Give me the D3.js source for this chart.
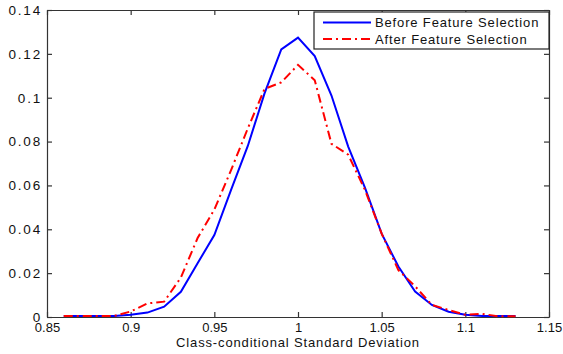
<!DOCTYPE html>
<html>
<head>
<meta charset="utf-8">
<script src="https://cdn.jsdelivr.net/npm/d3@7"></script>
<style>
  body { margin: 0; background: #fff; }
  svg { display: block; font-family: "Liberation Sans", Arial, sans-serif; }
</style>
</head>
<body>
<div id="chart"></div>
<script>
const xValues = [0.86, 0.87, 0.88, 0.89, 0.90, 0.91, 0.92, 0.93, 0.94, 0.95,
  0.96, 0.97, 0.98, 0.99, 1.00, 1.01, 1.02, 1.03, 1.04, 1.05,
  1.06, 1.07, 1.08, 1.09, 1.10, 1.11, 1.12, 1.13];
const beforeValues = [0.0005, 0.0005, 0.0005, 0.0005, 0.001, 0.002, 0.0047, 0.0115, 0.0245, 0.0374,
  0.058, 0.078, 0.102, 0.122, 0.1274, 0.119, 0.101, 0.0777, 0.059, 0.038,
  0.023, 0.0116, 0.0055, 0.0024, 0.001, 0.0005, 0.0004, 0.0004];
const afterValues = [0.0004, 0.0004, 0.0004, 0.0005, 0.0025, 0.0062, 0.007, 0.018, 0.036, 0.049,
  0.067, 0.086, 0.104, 0.107, 0.115, 0.108, 0.079, 0.074, 0.058, 0.038,
  0.0214, 0.0140, 0.0055, 0.0032, 0.001, 0.0014, 0.0003, 0.0003];
const seriesNames = ['Before Feature Selection', 'After Feature Selection'];
const xTicks = [0.85, 0.9, 0.95, 1, 1.05, 1.1, 1.15];
const xTickLabels = ['0.85', '0.9', '0.95', '1', '1.05', '1.1', '1.15'];
const yTicks = [0, 0.02, 0.04, 0.06, 0.08, 0.1, 0.12, 0.14];
const yTickLabels = ['0', '0.02', '0.04', '0.06', '0.08', '0.1', '0.12', '0.14'];
const xLabel = 'Class-conditional Standard Deviation';

const width = 563;
const height = 354;
const margin = { top: 10, right: 14, bottom: 37, left: 47 };
const w = width - margin.left - margin.right;
const h = height - margin.top - margin.bottom;

const svg = d3.select('#chart')
  .append('svg')
  .attr('width', width)
  .attr('height', height);

const g = svg.append('g')
  .attr('transform', `translate(${margin.left},${margin.top})`);

const x = d3.scaleLinear().domain([0.85, 1.15]).range([0, w]);
const y = d3.scaleLinear().domain([0, 0.14]).range([h, 0]);

g.append('rect')
  .attr('width', w)
  .attr('height', h)
  .attr('fill', '#fff');

const fmtX = d => xTickLabels[xTicks.indexOf(d)];
const fmtY = d => yTickLabels[yTicks.indexOf(d)];

// matlab-ish text: normal glyphs, spaced out
function styleAxis(sel, size, spacing) {
  sel.selectAll('path').attr('stroke', '#333').attr('stroke-width', 1.2);
  sel.selectAll('line').attr('stroke', '#333').attr('stroke-width', 1.2);
  sel.selectAll('text').attr('font-size', size).attr('fill', '#111')
    .style('letter-spacing', spacing + 'px')
    .style('font-family', '"Liberation Sans", Arial, sans-serif');
}

g.append('g')
  .attr('transform', `translate(0,${h})`)
  .call(d3.axisBottom(x).tickValues(xTicks).tickFormat(fmtX)
    .tickSizeInner(-5).tickSizeOuter(0).tickPadding(6))
  .call(styleAxis, 13, 0);

g.append('g')
  .call(d3.axisTop(x).tickValues(xTicks).tickFormat('')
    .tickSizeInner(-5).tickSizeOuter(0))
  .call(styleAxis, 13, 0);

g.append('g')
  .call(d3.axisLeft(y).tickValues(yTicks).tickFormat(fmtY)
    .tickSizeInner(-5).tickSizeOuter(0).tickPadding(5))
  .call(styleAxis, 13.5, 1.8);

g.append('g')
  .attr('transform', `translate(${w},0)`)
  .call(d3.axisRight(y).tickValues(yTicks).tickFormat('')
    .tickSizeInner(-5).tickSizeOuter(0))
  .call(styleAxis, 13, 0);

const line = d3.line()
  .x((d, i) => x(xValues[i]))
  .y(d => y(d));

g.append('path')
  .datum(beforeValues)
  .attr('d', line)
  .attr('fill', 'none')
  .attr('stroke', '#0000ff')
  .attr('stroke-width', 2);

g.append('path')
  .datum(afterValues)
  .attr('d', line)
  .attr('fill', 'none')
  .attr('stroke', '#ff0000')
  .attr('stroke-width', 2)
  .attr('stroke-dasharray', '9,4,2,4');

svg.append('text')
  .attr('x', margin.left + w / 2)
  .attr('y', 347)
  .attr('text-anchor', 'middle')
  .attr('font-size', 13)
  .attr('fill', '#111')
  .style('letter-spacing', '0.85px')
  .text(xLabel);

// legend
const legend = svg.append('g').attr('transform', 'translate(314,12)');
legend.append('rect')
  .attr('width', 235)
  .attr('height', 37)
  .attr('fill', '#fff')
  .attr('stroke', '#222')
  .attr('stroke-width', 1.2);

const legendStyles = [
  { color: '#0000ff', dash: null },
  { color: '#ff0000', dash: '9,4,2,4' }
];
seriesNames.forEach((name, i) => {
  const yy = 10.5 + i * 16.5;
  legend.append('line')
    .attr('x1', 9).attr('x2', 57)
    .attr('y1', yy).attr('y2', yy)
    .attr('stroke', legendStyles[i].color)
    .attr('stroke-width', 2)
    .attr('stroke-dasharray', legendStyles[i].dash);
  legend.append('text')
    .attr('x', 61)
    .attr('y', yy + 4.5)
    .attr('font-size', 13)
    .attr('fill', '#111')
    .style('letter-spacing', '0.85px')
    .text(name);
});
</script>
</body>
</html>
